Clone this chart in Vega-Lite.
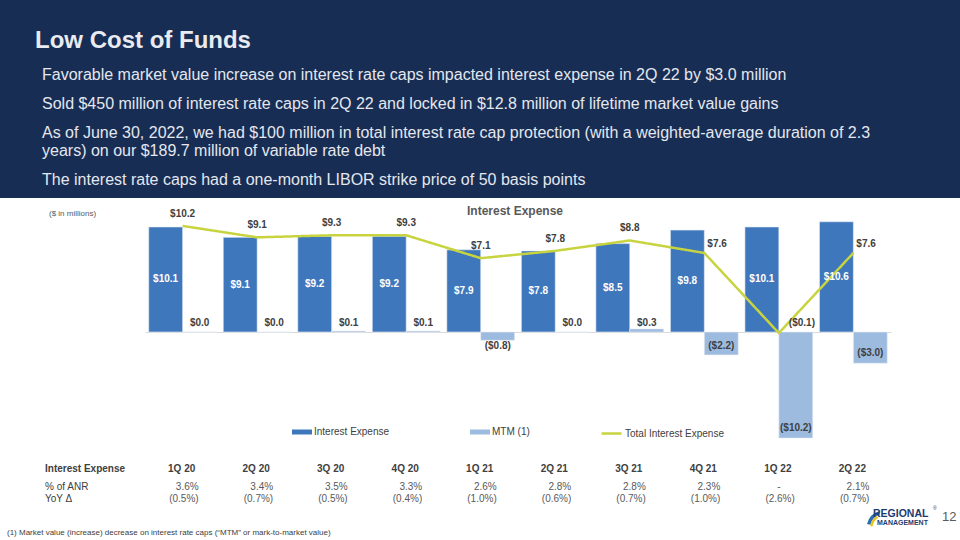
{
  "$schema": "https://vega.github.io/schema/vega-lite/v6.json",
  "width": 960,
  "height": 540,
  "autosize": "none",
  "padding": 0,
  "background": "#ffffff",
  "config": {"view": {"stroke": null}, "font": "Liberation Sans"},
  "data": {
    "values": [
      {"q": "1Q20", "hdr": "1Q 20", "ie": 10.1, "mtm": 0.0, "total": 10.2, "anr": "3.6%", "yoy": "(0.5%)"},
      {"q": "2Q20", "hdr": "2Q 20", "ie": 9.1, "mtm": 0.0, "total": 9.1, "anr": "3.4%", "yoy": "(0.7%)"},
      {"q": "3Q20", "hdr": "3Q 20", "ie": 9.2, "mtm": 0.1, "total": 9.3, "anr": "3.5%", "yoy": "(0.5%)"},
      {"q": "4Q20", "hdr": "4Q 20", "ie": 9.2, "mtm": 0.1, "total": 9.3, "anr": "3.3%", "yoy": "(0.4%)"},
      {"q": "1Q21", "hdr": "1Q 21", "ie": 7.9, "mtm": -0.8, "total": 7.1, "anr": "2.6%", "yoy": "(1.0%)"},
      {"q": "2Q21", "hdr": "2Q 21", "ie": 7.8, "mtm": 0.0, "total": 7.8, "anr": "2.8%", "yoy": "(0.6%)"},
      {"q": "3Q21", "hdr": "3Q 21", "ie": 8.5, "mtm": 0.3, "total": 8.8, "anr": "2.8%", "yoy": "(0.7%)"},
      {"q": "4Q21", "hdr": "4Q 21", "ie": 9.8, "mtm": -2.2, "total": 7.6, "anr": "2.3%", "yoy": "(1.0%)"},
      {"q": "1Q22", "hdr": "1Q 22", "ie": 10.1, "mtm": -10.2, "total": -0.1, "anr": "-", "yoy": "(2.6%)"},
      {"q": "2Q22", "hdr": "2Q 22", "ie": 10.6, "mtm": -3.0, "total": 7.6, "anr": "2.1%", "yoy": "(0.7%)"}
    ]
  },
  "layer": [
    {
      "data": {"values": [{}]},
      "mark": {"type": "rect", "color": "#172d54", "x": 0, "x2": 960, "y": 0, "y2": 198}
    },
    {
      "data": {"values": [{}]},
      "mark": {"type": "text", "text": "Low Cost of Funds", "x": 35, "y": 48, "align": "left", "baseline": "alphabetic", "font": "Liberation Sans", "fontSize": 24, "fontWeight": "bold", "color": "#e9ebf0"}
    },
    {
      "data": {"values": [{}]},
      "mark": {"type": "text", "text": "Favorable market value increase on interest rate caps impacted interest expense in 2Q 22 by $3.0 million", "x": 42, "y": 80, "align": "left", "baseline": "alphabetic", "font": "Liberation Sans", "fontSize": 16, "color": "#e4e7ee"}
    },
    {
      "data": {"values": [{}]},
      "mark": {"type": "text", "text": "Sold $450 million of interest rate caps in 2Q 22 and locked in $12.8 million of lifetime market value gains", "x": 42, "y": 109, "align": "left", "baseline": "alphabetic", "font": "Liberation Sans", "fontSize": 16, "color": "#e4e7ee"}
    },
    {
      "data": {"values": [{}]},
      "mark": {"type": "text", "text": ["As of June 30, 2022, we had $100 million in total interest rate cap protection (with a weighted-average duration of 2.3", "years) on our $189.7 million of variable rate debt"], "lineHeight": 17.5, "x": 42, "y": 138, "align": "left", "baseline": "alphabetic", "font": "Liberation Sans", "fontSize": 16, "color": "#e4e7ee"}
    },
    {
      "data": {"values": [{}]},
      "mark": {"type": "text", "text": "The interest rate caps had a one-month LIBOR strike price of 50 basis points", "x": 42, "y": 185, "align": "left", "baseline": "alphabetic", "font": "Liberation Sans", "fontSize": 16, "color": "#e4e7ee"}
    },
    {
      "data": {"values": [{}]},
      "mark": {"type": "text", "text": "($ in millions)", "x": 49, "y": 216, "align": "left", "baseline": "alphabetic", "font": "Liberation Sans", "fontSize": 8, "color": "#595959"}
    },
    {
      "data": {"values": [{}]},
      "mark": {"type": "text", "text": "Interest Expense", "x": 515, "y": 215, "align": "center", "baseline": "alphabetic", "font": "Liberation Sans", "fontSize": 12, "fontWeight": "bold", "color": "#595959"}
    },
    {
      "transform": [{"fold": ["ie", "mtm"], "as": ["series", "v"]}],
      "mark": {"type": "bar", "stroke": "#e8eef7", "strokeWidth": 0.6},
      "encoding": {
        "x": {
          "field": "q", "type": "nominal", "sort": null,
          "scale": {"type": "band", "range": [145, 891], "paddingInner": 0.09, "paddingOuter": 0.05},
          "axis": {"orient": "bottom", "offset": -208, "labels": false, "ticks": false, "title": null, "grid": false, "domainColor": "#d9d9d9", "domainWidth": 1.2}
        },
        "xOffset": {"field": "series", "type": "nominal", "sort": ["ie", "mtm"], "scale": {"paddingInner": 0, "paddingOuter": 0}},
        "y": {"field": "v", "type": "quantitative", "scale": {"domain": [0, 10], "range": [332, 228], "nice": false, "zero": false}, "axis": null},
        "y2": {"datum": 0},
        "color": {
          "field": "series", "type": "nominal",
          "scale": {"domain": ["ie", "mtm"], "range": ["#3f77bc", "#9dbadf"]},
          "legend": {
            "orient": "none", "legendX": 292, "legendY": 422, "direction": "horizontal", "title": null,
            "padding": 0, "columnPadding": 80, "symbolType": "M-1,-0.25H1V0.25H-1Z", "symbolSize": 400,
            "symbolStrokeWidth": 0, "symbolOpacity": 1, "labelOffset": 2,
            "labelFont": "Liberation Sans", "labelFontSize": 10, "labelColor": "#404040",
            "labelExpr": "datum.label == 'ie' ? 'Interest Expense' : 'MTM (1)'"
          }
        }
      }
    },
    {
      "mark": {"type": "line", "strokeWidth": 2.5, "color": "#c8d43f"},
      "encoding": {
        "x": {"field": "q", "type": "nominal", "sort": null},
        "y": {"field": "total", "type": "quantitative", "axis": null},
        "strokeDash": {
          "datum": "Total Interest Expense", "type": "nominal",
          "scale": {"range": [[1, 0]]},
          "legend": {
            "orient": "none", "legendX": 600, "legendY": 422, "title": null, "padding": 0,
            "symbolType": "stroke", "symbolSize": 400, "symbolStrokeColor": "#c8d43f", "symbolStrokeWidth": 2.5,
            "labelOffset": 2, "labelFont": "Liberation Sans", "labelFontSize": 10, "labelColor": "#404040"
          }
        }
      }
    },
    {
      "transform": [{"calculate": "datum.ie / 2", "as": "ieMid"}],
      "mark": {"type": "text", "dx": -17, "align": "center", "baseline": "middle", "font": "Liberation Sans", "fontSize": 10, "fontWeight": "bold", "color": "#ffffff"},
      "encoding": {
        "x": {"field": "q", "type": "nominal", "sort": null},
        "y": {"field": "ieMid", "type": "quantitative", "axis": null},
        "text": {"field": "ie", "type": "quantitative", "format": "($.1f"}
      }
    },
    {
      "transform": [{"filter": "datum.mtm >= 0"}],
      "mark": {"type": "text", "dx": 17, "dy": -9, "align": "center", "baseline": "middle", "font": "Liberation Sans", "fontSize": 10, "fontWeight": "bold", "color": "#404040"},
      "encoding": {
        "x": {"field": "q", "type": "nominal", "sort": null},
        "y": {"datum": 0, "type": "quantitative", "axis": null},
        "text": {"field": "mtm", "type": "quantitative", "format": "($.1f"}
      }
    },
    {
      "transform": [{"filter": "datum.mtm < 0 && datum.mtm > -2.5"}],
      "mark": {"type": "text", "dx": 17, "dy": 14, "align": "center", "baseline": "middle", "font": "Liberation Sans", "fontSize": 10, "fontWeight": "bold", "color": "#404040"},
      "encoding": {
        "x": {"field": "q", "type": "nominal", "sort": null},
        "y": {"datum": 0, "type": "quantitative", "axis": null},
        "text": {"field": "mtm", "type": "quantitative", "format": "($.1f"}
      }
    },
    {
      "transform": [{"filter": "datum.mtm <= -2.5"}],
      "mark": {"type": "text", "dx": 17, "dy": -10, "align": "center", "baseline": "middle", "font": "Liberation Sans", "fontSize": 10, "fontWeight": "bold", "color": "#404040"},
      "encoding": {
        "x": {"field": "q", "type": "nominal", "sort": null},
        "y": {"field": "mtm", "type": "quantitative", "axis": null},
        "text": {"field": "mtm", "type": "quantitative", "format": "($.1f"}
      }
    },
    {
      "transform": [{"filter": "datum.q != '4Q21' && datum.q != '1Q22' && datum.q != '2Q22'"}],
      "mark": {"type": "text", "dy": -12, "align": "center", "baseline": "middle", "font": "Liberation Sans", "fontSize": 10, "fontWeight": "bold", "color": "#404040"},
      "encoding": {
        "x": {"field": "q", "type": "nominal", "sort": null},
        "y": {"field": "total", "type": "quantitative", "axis": null},
        "text": {"field": "total", "type": "quantitative", "format": "($.1f"}
      }
    },
    {
      "transform": [{"filter": "datum.q == '4Q21' || datum.q == '2Q22'"}],
      "mark": {"type": "text", "dx": 3, "dy": -9, "align": "left", "baseline": "middle", "font": "Liberation Sans", "fontSize": 10, "fontWeight": "bold", "color": "#404040"},
      "encoding": {
        "x": {"field": "q", "type": "nominal", "sort": null},
        "y": {"field": "total", "type": "quantitative", "axis": null},
        "text": {"field": "total", "type": "quantitative", "format": "($.1f"}
      }
    },
    {
      "transform": [{"filter": "datum.q == '1Q22'"}],
      "mark": {"type": "text", "dx": 10, "dy": -10, "align": "left", "baseline": "middle", "font": "Liberation Sans", "fontSize": 10, "fontWeight": "bold", "color": "#404040"},
      "encoding": {
        "x": {"field": "q", "type": "nominal", "sort": null},
        "y": {"field": "total", "type": "quantitative", "axis": null},
        "text": {"field": "total", "type": "quantitative", "format": "($.1f"}
      }
    },
    {
      "data": {"values": [{}]},
      "mark": {"type": "text", "text": "Interest Expense", "x": 45, "y": 469, "align": "left", "baseline": "middle", "font": "Liberation Sans", "fontSize": 10, "fontWeight": "bold", "color": "#404040"}
    },
    {
      "data": {"values": [{}]},
      "mark": {"type": "text", "text": "% of ANR", "x": 45, "y": 487, "align": "left", "baseline": "middle", "font": "Liberation Sans", "fontSize": 10, "color": "#404040"}
    },
    {
      "data": {"values": [{}]},
      "mark": {"type": "text", "text": "YoY Δ", "x": 45, "y": 499, "align": "left", "baseline": "middle", "font": "Liberation Sans", "fontSize": 10, "color": "#404040"}
    },
    {
      "data": {"values": [{}]},
      "mark": {"type": "rule", "x": 42, "x2": 902, "y": 478, "y2": 478, "color": "#1a1a1a", "strokeWidth": 1.3},
      "encoding": {}
    },
    {
      "mark": {"type": "text", "dx": -1, "align": "center", "baseline": "middle", "y": 469, "font": "Liberation Sans", "fontSize": 10, "fontWeight": "bold", "color": "#404040"},
      "encoding": {
        "x": {"field": "q", "type": "nominal", "sort": null},
        "text": {"field": "hdr", "type": "nominal"}
      }
    },
    {
      "transform": [{"filter": "datum.anr != '-'"}],
      "mark": {"type": "text", "dx": 16, "align": "right", "baseline": "middle", "y": 487, "font": "Liberation Sans", "fontSize": 10, "color": "#595959"},
      "encoding": {
        "x": {"field": "q", "type": "nominal", "sort": null},
        "text": {"field": "anr", "type": "nominal"}
      }
    },
    {
      "transform": [{"filter": "datum.anr == '-'"}],
      "mark": {"type": "text", "align": "center", "baseline": "middle", "y": 487, "font": "Liberation Sans", "fontSize": 10, "color": "#595959"},
      "encoding": {
        "x": {"field": "q", "type": "nominal", "sort": null},
        "text": {"field": "anr", "type": "nominal"}
      }
    },
    {
      "mark": {"type": "text", "dx": 16, "align": "right", "baseline": "middle", "y": 499, "font": "Liberation Sans", "fontSize": 10, "color": "#595959"},
      "encoding": {
        "x": {"field": "q", "type": "nominal", "sort": null},
        "text": {"field": "yoy", "type": "nominal"}
      }
    },
    {
      "data": {"values": [{}]},
      "mark": {"type": "text", "text": "(1) Market value (increase) decrease on interest rate caps (\u201cMTM\u201d or mark-to-market value)", "x": 7, "y": 535, "align": "left", "baseline": "alphabetic", "font": "Liberation Sans", "fontSize": 8, "color": "#404040"}
    },
    {
      "data": {"values": [{}]},
      "mark": {"type": "arc", "x": 884, "y": 528, "innerRadius": 14, "outerRadius": 17.5, "theta": 4.95, "theta2": 6.0, "color": "#2b6cb3"}
    },
    {
      "data": {"values": [{}]},
      "mark": {"type": "arc", "x": 884, "y": 528, "innerRadius": 11.5, "outerRadius": 14, "theta": 4.85, "theta2": 5.75, "color": "#e3c51c"}
    },
    {
      "data": {"values": [{}]},
      "mark": {"type": "text", "text": "REGIONAL", "x": 873, "y": 517, "align": "left", "baseline": "alphabetic", "font": "Liberation Sans", "fontSize": 10.5, "fontWeight": "bold", "color": "#1d3c6e"}
    },
    {
      "data": {"values": [{}]},
      "mark": {"type": "text", "text": "MANAGEMENT", "x": 877, "y": 525, "align": "left", "baseline": "alphabetic", "font": "Liberation Sans", "fontSize": 7, "fontWeight": "bold", "color": "#1d3c6e"}
    },
    {
      "data": {"values": [{}]},
      "mark": {"type": "text", "text": "\u00ae", "x": 933, "y": 510, "align": "left", "baseline": "alphabetic", "font": "Liberation Sans", "fontSize": 5, "color": "#1d3c6e"}
    },
    {
      "data": {"values": [{}]},
      "mark": {"type": "text", "text": "12", "x": 942, "y": 521, "align": "left", "baseline": "alphabetic", "font": "Liberation Sans", "fontSize": 13, "color": "#595959"}
    }
  ]
}
